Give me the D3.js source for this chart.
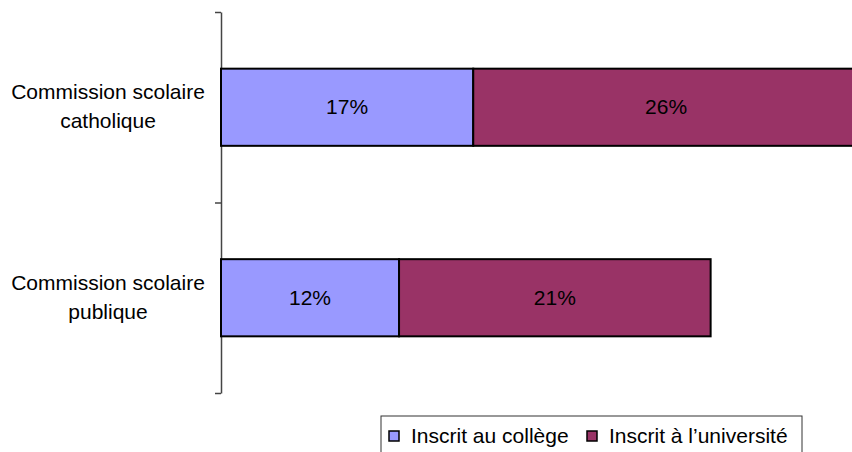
<!DOCTYPE html>
<html>
<head>
<meta charset="utf-8">
<script src="https://cdn.jsdelivr.net/npm/d3@7"></script>
<style>
  body { margin: 0; background: #fff; }
  svg { display: block; font-family: "Liberation Sans", Arial, sans-serif; }
</style>
</head>
<body>
<script>
// donnees du graphique
const categories = [['Commission scolaire', 'catholique'], ['Commission scolaire', 'publique']];
const seriesNames = ['Inscrit au collège', 'Inscrit à l\u2019université'];
const college = [17, 12];
const universite = [26, 21];
const colors = ['#9999FF', '#993366'];

const width = 852, height = 452;

const svg = d3.select('body').append('svg')
  .attr('width', width)
  .attr('height', height);

const rows = categories.map((c, i) => ({ key: i, vals: [college[i], universite[i]] }));

const x = d3.scaleLinear()
  .domain([0, 43])
  .range([221, 859]);

const y = d3.scaleBand()
  .domain(rows.map(d => d.key))
  .range([12, 393])
  .paddingInner(0.595)
  .paddingOuter(0.2975);

// axe vertical avec graduations aux limites des categories
const yTicks = d3.scaleLinear().domain([0, rows.length]).range([12, 393]);
const yAxis = svg.append('g')
  .attr('transform', 'translate(221,0)')
  .call(d3.axisLeft(yTicks).tickValues(d3.range(0, rows.length + 1)).tickFormat('').tickSize(6).tickSizeOuter(0));
yAxis.select('.domain').attr('stroke', '#444').attr('stroke-width', 1.5);
yAxis.selectAll('.tick line').attr('stroke', '#444').attr('stroke-width', 1.5);

// segments empiles
const stack = d3.stack().keys([0, 1]).value((d, k) => d.vals[k]);
const layers = stack(rows);

const g = svg.append('g');
layers.forEach((layer, li) => {
  g.selectAll(null)
    .data(layer)
    .enter()
    .append('rect')
    .attr('x', d => x(d[0]))
    .attr('y', (d, i) => y(rows[i].key))
    .attr('width', d => x(d[1]) - x(d[0]))
    .attr('height', y.bandwidth())
    .attr('fill', colors[li])
    .attr('stroke', '#000')
    .attr('stroke-width', 2);

  g.selectAll(null)
    .data(layer)
    .enter()
    .append('text')
    .attr('x', d => (x(d[0]) + x(d[1])) / 2)
    .attr('y', (d, i) => y(rows[i].key) + y.bandwidth() / 2 + 7)
    .attr('text-anchor', 'middle')
    .attr('font-size', 21)
    .attr('fill', '#000')
    .text(d => (d[1] - d[0]) + '%');
});

// etiquettes des categories
rows.forEach((r, i) => {
  const cy = y(r.key) + y.bandwidth() / 2;
  const t = svg.append('text')
    .attr('text-anchor', 'middle')
    .attr('font-size', 21)
    .attr('fill', '#000');
  categories[i].forEach((line, j) => {
    t.append('tspan')
      .attr('x', 108)
      .attr('y', cy - 8 + j * 29)
      .text(line);
  });
});

// legende
const legend = svg.append('g').attr('transform', 'translate(381,416)');
legend.append('rect')
  .attr('width', 421).attr('height', 50)
  .attr('fill', '#fff').attr('stroke', '#333').attr('stroke-width', 1);

const legendX = [8, 206];
seriesNames.forEach((name, i) => {
  const item = legend.append('g').attr('transform', `translate(${legendX[i]},0)`);
  item.append('rect')
    .attr('x', 0).attr('y', 15)
    .attr('width', 10).attr('height', 10)
    .attr('fill', colors[i]).attr('stroke', '#000').attr('stroke-width', 1.5);
  item.append('text')
    .attr('x', 22).attr('y', 27)
    .attr('font-size', 21)
    .attr('fill', '#000')
    .text(name);
});
</script>
</body>
</html>
